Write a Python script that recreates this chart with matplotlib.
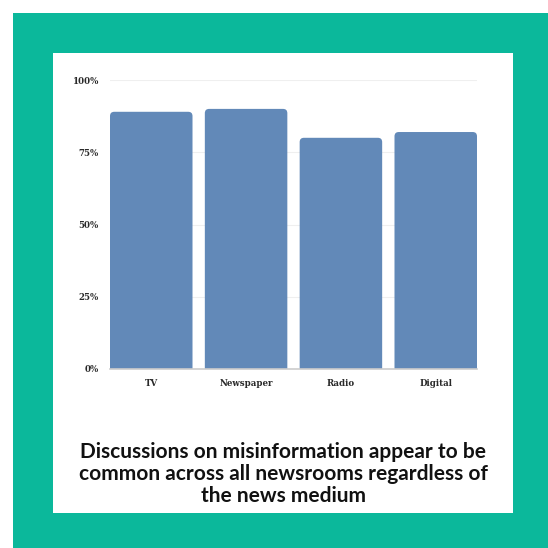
import matplotlib
matplotlib.use("Agg")
import matplotlib.pyplot as plt
from matplotlib.patches import Rectangle, FancyBboxPatch

categories = ["TV", "Newspaper", "Radio", "Digital"]
values = [89, 90, 80, 82]
yticks = [0, 25, 50, 75, 100]
ytick_labels = ["0%", "25%", "50%", "75%", "100%"]
title = ("Discussions on misinformation appear to be\n"
         "common across all newsrooms regardless of\n"
         "the news medium")

W = H = 548
fig = plt.figure(figsize=(W / 100, H / 100), dpi=100)
fig.patch.set_facecolor("white")

# Teal frame and white inner panel
fig.add_artist(Rectangle((13 / W, 0), 1 - 13 / W, 1 - 13 / H, transform=fig.transFigure,
                         facecolor="#0BB89B", edgecolor="none", zorder=0))
fig.add_artist(Rectangle((53 / W, 1 - 513 / H), 460 / W, 460 / H, transform=fig.transFigure,
                         facecolor="white", edgecolor="none", zorder=1))

ax = fig.add_axes([110 / W, 1 - 369 / H, 367 / W, 289 / H], zorder=2)
ax.set_facecolor("none")
bar_color = "#6289B8"
bars = ax.bar(range(len(categories)), values, width=0.87, color=bar_color, zorder=3)
# rounded tops: replace each bar with a rounded box of the same geometry
for b in bars:
    x0, y0, w, h = b.get_x(), b.get_y(), b.get_width(), b.get_height()
    b.set_visible(False)
    rad = 0.045
    asp = (100 / 289) / (3.87 / 367)
    p = FancyBboxPatch((x0 + rad, y0 - 3), w - 2 * rad, h + 3 - rad * asp,
                       boxstyle=f"round,pad={rad}", mutation_aspect=asp,
                       facecolor=bar_color, edgecolor="none", zorder=3)
    ax.add_patch(p)

ax.set_xlim(-0.435, 3.435)
ax.set_ylim(0, 100)
ax.set_yticks(yticks)
ax.set_yticklabels(ytick_labels)
ax.set_xticks(range(len(categories)))
ax.set_xticklabels(categories)
for lab in ax.get_xticklabels() + ax.get_yticklabels():
    lab.set_fontfamily("DejaVu Serif")
    lab.set_fontweight("bold")
    lab.set_fontsize(6.2)
    lab.set_color("#2a2a2a")
ax.tick_params(axis="x", length=0, pad=7)
ax.tick_params(axis="y", length=0, pad=8)
ax.grid(axis="y", color="#EFEFEF", linewidth=0.8, zorder=0)
for s in ["top", "right", "left"]:
    ax.spines[s].set_visible(False)
ax.spines["bottom"].set_color("#CCCCCC")
ax.spines["bottom"].set_linewidth(1.2)
ax.spines["bottom"].set_zorder(4)

fig.text(0.5 * (53 + 513) / W + 0.5 / W, 1 - 474 / H, title, ha="center", va="center",
         fontsize=15, fontweight="bold", family="Lato", color="#111111",
         linespacing=1.1, zorder=5)

fig.savefig("out.png", dpi=100)
